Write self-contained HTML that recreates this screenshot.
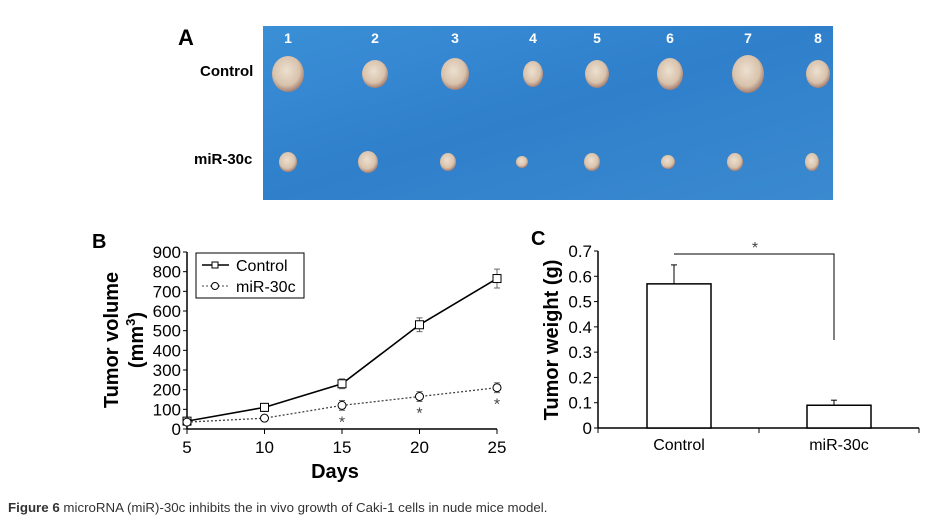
<!DOCTYPE html>
<html><head><meta charset="utf-8"><style>
body{margin:0;background:#fff;width:927px;height:518px;overflow:hidden;font-family:"Liberation Sans",Arial,sans-serif}
svg{position:absolute;left:0;top:0}
</style></head><body>
<svg width="927" height="518">
<defs>
<linearGradient id="blue" x1="0" y1="0" x2="1" y2="1">
<stop offset="0" stop-color="#3a8fd6"/><stop offset="0.5" stop-color="#2f7fcb"/><stop offset="1" stop-color="#3b8ad0"/></linearGradient>
<radialGradient id="tum" cx="0.45" cy="0.4" r="0.6"><stop offset="0" stop-color="#ece0cf"/><stop offset="0.7" stop-color="#d8c2ac"/><stop offset="1" stop-color="#a57f72"/></radialGradient>
</defs>
<!-- Panel A -->
<text x="178" y="45" font-size="22" font-weight="bold">A</text>
<rect x="263" y="26" width="570" height="174" fill="url(#blue)"/>
<text x="200" y="76" font-size="15" font-weight="bold">Control</text>
<text x="194" y="164" font-size="15" font-weight="bold">miR-30c</text>
<g id="photo" fill="#fff" font-size="14" font-weight="bold" text-anchor="middle"></g>
<!-- Panel B -->
<text x="92" y="248" font-size="20" font-weight="bold">B</text>
<g id="chartB"></g>
<!-- Panel C -->
<text x="531" y="245" font-size="20" font-weight="bold">C</text>
<g id="chartC"></g>
<text x="8" y="512" font-size="13.3" fill="#333"><tspan font-weight="bold">Figure 6</tspan> microRNA (miR)-30c inhibits the in vivo growth of Caki-1 cells in nude mice model.</text>
</svg>
<script>
const NS="http://www.w3.org/2000/svg";
function mk(p,t,a,txt){const e=document.createElementNS(NS,t);for(const k in a)e.setAttribute(k,a[k]);if(txt!==undefined)e.textContent=txt;p.appendChild(e);return e;}

// Photo
const photo=document.getElementById('photo');
const tx=[288,375,455,533,597,670,748,818];
const crx=[16,13,14,10,12,13,16,12], cry=[18,14,16,13,14,16,19,14];
const mrx=[9,10,8,6,8,7,8,7], mry=[10,11,9,6,9,7,9,9];
const mxs=[288,368,448,522,592,668,735,812];
for(let i=0;i<8;i++){
 const n=mk(photo,'text',{x:tx[i],y:43},String(i+1));
 
 const c=mk(photo,'ellipse',{cx:tx[i],cy:74,rx:crx[i],ry:cry[i],fill:'url(#tum)'});
 
 const m=mk(photo,'ellipse',{cx:mxs[i],cy:162,rx:mrx[i],ry:mry[i],fill:'url(#tum)'});
 
}

// Chart B data
const days=[5,10,15,20,25];
const controlVol=[40,110,230,530,765];
const controlErr=[12,20,25,35,48];
const mirVol=[35,55,120,165,210];
const mirErr=[8,10,25,25,25];
const yTicksB=[0,100,200,300,400,500,600,700,800,900];
const sigDays=[15,20,25];
const B=document.getElementById('chartB');
const xB=d=>187+(d-5)*(310/20);
const yB=v=>429-v*(177/900);
mk(B,'line',{x1:187,y1:252,x2:187,y2:429,stroke:'#000','stroke-width':1.5});
mk(B,'line',{x1:187,y1:429,x2:497,y2:429,stroke:'#000','stroke-width':1.5});
yTicksB.forEach(v=>{mk(B,'line',{x1:183,y1:yB(v),x2:187,y2:yB(v),stroke:'#000'});
 const t=mk(B,'text',{x:181,y:yB(v)+6,'font-size':17,'text-anchor':'end'},v);
 });
days.forEach(d=>{mk(B,'line',{x1:xB(d),y1:429,x2:xB(d),y2:434,stroke:'#000'});
 const t=mk(B,'text',{x:xB(d),y:453,'font-size':17,'text-anchor':'middle'},d);
 });
const xt=mk(B,'text',{x:335,y:478,'font-size':20,'font-weight':'bold','text-anchor':'middle'},'Days');

const yt=mk(B,'text',{transform:'translate(118,340) rotate(-90)','font-size':20,'font-weight':'bold','text-anchor':'middle'});

mk(yt,'tspan',{x:0,y:0},'Tumor volume');
const t2=mk(yt,'tspan',{x:0,y:25},'(mm');mk(yt,'tspan',{'font-size':13,dy:-8},'3');mk(yt,'tspan',{dy:8},')');
function series(vals,errs,dash,marker,name){
 const g=mk(B,'g',{});
 mk(g,'polyline',{points:days.map((d,i)=>xB(d)+','+yB(vals[i])).join(' '),fill:'none',stroke:dash?'#444':'#000','stroke-width':dash?1.3:1.6,'stroke-dasharray':dash?'2,2':'none'});
 days.forEach((d,i)=>{const x=xB(d),y=yB(vals[i]),e=errs[i]*177/900;
  mk(g,'line',{x1:x,y1:y-e,x2:x,y2:y+e,stroke:'#666'});
  mk(g,'line',{x1:x-3,y1:y-e,x2:x+3,y2:y-e,stroke:'#666'});
  mk(g,'line',{x1:x-3,y1:y+e,x2:x+3,y2:y+e,stroke:'#666'});
  const p=marker==='sq'?mk(g,'rect',{x:x-4,y:y-4,width:8,height:8,fill:'#fff',stroke:'#000'}):mk(g,'circle',{cx:x,cy:y,r:4,fill:'#fff',stroke:'#000'});
  });
}
series(controlVol,controlErr,false,'sq','control');
series(mirVol,mirErr,true,'ci','mir30c');
sigDays.forEach(d=>{const i=days.indexOf(d);const s=mk(B,'text',{x:xB(d),y:yB(mirVol[i])+22,'font-size':16,'text-anchor':'middle',fill:'#444'},'*');
 });
const lg=mk(B,'g',{});
mk(lg,'rect',{x:196,y:253,width:108,height:45,fill:'#fff',stroke:'#000'});
mk(lg,'line',{x1:202,y1:265,x2:229,y2:265,stroke:'#000','stroke-width':1.6});
mk(lg,'rect',{x:212,y:262,width:6,height:6,fill:'#fff',stroke:'#000'});
mk(lg,'text',{x:236,y:271,'font-size':16},'Control');
mk(lg,'line',{x1:202,y1:286,x2:229,y2:286,stroke:'#444','stroke-dasharray':'2,2'});
mk(lg,'circle',{cx:215,cy:286,r:3.5,fill:'#fff',stroke:'#000'});
mk(lg,'text',{x:236,y:292,'font-size':16},'miR-30c');

// Chart C data
const groups=['Control','miR-30c'];
const weights=[0.57,0.09];
const weightErr=[0.075,0.02];
const yTicksC=[0,0.1,0.2,0.3,0.4,0.5,0.6,0.7];
const C=document.getElementById('chartC');
const yC=v=>428-v*(177/0.7);
const xC=i=>679+i*160;
mk(C,'line',{x1:598,y1:251,x2:598,y2:428,stroke:'#000','stroke-width':1.5});
mk(C,'line',{x1:598,y1:428,x2:919,y2:428,stroke:'#000','stroke-width':1.5});
[598,759,919].forEach(x=>mk(C,'line',{x1:x,y1:428,x2:x,y2:433,stroke:'#000'}));
yTicksC.forEach(v=>{mk(C,'line',{x1:594,y1:yC(v),x2:598,y2:yC(v),stroke:'#000'});
 const t=mk(C,'text',{x:592,y:yC(v)+6,'font-size':17,'text-anchor':'end'},v===0?'0':v.toFixed(1));
 });
groups.forEach((g,i)=>{const x=xC(i),y=yC(weights[i]),e=weightErr[i]*177/0.7;
 mk(C,'line',{x1:x-5,y1:y-e,x2:x-5,y2:y,stroke:'#000'});
 mk(C,'line',{x1:x-8,y1:y-e,x2:x-2,y2:y-e,stroke:'#000'});
 const r=mk(C,'rect',{x:x-32,y:y,width:64,height:428-y,fill:'#fff',stroke:'#000','stroke-width':1.5});
 
 const t=mk(C,'text',{x:x,y:450,'font-size':16,'text-anchor':'middle'},g);
 });
const br=mk(C,'polyline',{points:'674,254 834,254 834,340',fill:'none',stroke:'#000'});

const st=mk(C,'text',{x:755,y:253,'font-size':16,'text-anchor':'middle',fill:'#444'},'*');

const yc=mk(C,'text',{transform:'translate(558,340) rotate(-90)','font-size':20,'font-weight':'bold','text-anchor':'middle'},'Tumor weight (g)');

</script>
</body></html>
